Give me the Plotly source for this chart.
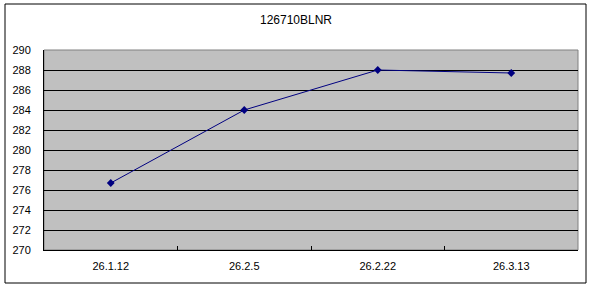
import plotly.graph_objects as go

categories = ["26.1.12", "26.2.5", "26.2.22", "26.3.13"]
values = [276.7, 284.0, 288.0, 287.7]
title_text = "126710BLNR"
y_ticks = list(range(270, 292, 2))

W, H = 592, 288
L, R, T, B = 44, 14, 50, 38
pw, ph = W - L - R, H - T - B

def px_x(x):
    return (x - L) / pw

def px_y(y):
    return (H - B - y) / ph

fig = go.Figure()
fig.add_trace(go.Scatter(
    x=categories, y=values, mode="lines+markers",
    line=dict(color="#000080", width=1),
    marker=dict(symbol="diamond", size=6, color="#000080"),
    showlegend=False, hoverinfo="skip",
))

fig.update_layout(
    width=W, height=H,
    margin=dict(l=L, r=R, t=T, b=B),
    paper_bgcolor="white", plot_bgcolor="#C0C0C0",
    font=dict(family="Liberation Sans, Arial, sans-serif", size=11, color="black"),
    title=dict(text=title_text, x=0.5, xanchor="center", y=1 - 20 / H, yanchor="middle",
               yref="container", font=dict(size=12, color="black")),
    xaxis=dict(
        type="category", range=[-0.5, 3.5], showgrid=False,
        showline=True, linecolor="black", linewidth=1,
        ticks="inside", ticklen=4, tickcolor="black", tickson="boundaries",
        ticklabelstandoff=6, zeroline=False, fixedrange=True,
    ),
    yaxis=dict(
        range=[270, 290], tickvals=y_ticks, showgrid=True, gridcolor="black", gridwidth=1,
        showline=True, linecolor="black", linewidth=1, zeroline=False,
        ticks="", ticklabelstandoff=10, fixedrange=True,
    ),
    shapes=[
        dict(type="rect", xref="paper", yref="paper", x0=0, x1=1, y0=0, y1=1,
             line=dict(color="#808080", width=1), layer="below"),
        dict(type="rect", xref="paper", yref="paper",
             x0=px_x(5), x1=px_x(586), y0=px_y(283), y1=px_y(4),
             line=dict(color="black", width=1), fillcolor="rgba(0,0,0,0)"),
    ],
)

fig.write_html("out.html")
